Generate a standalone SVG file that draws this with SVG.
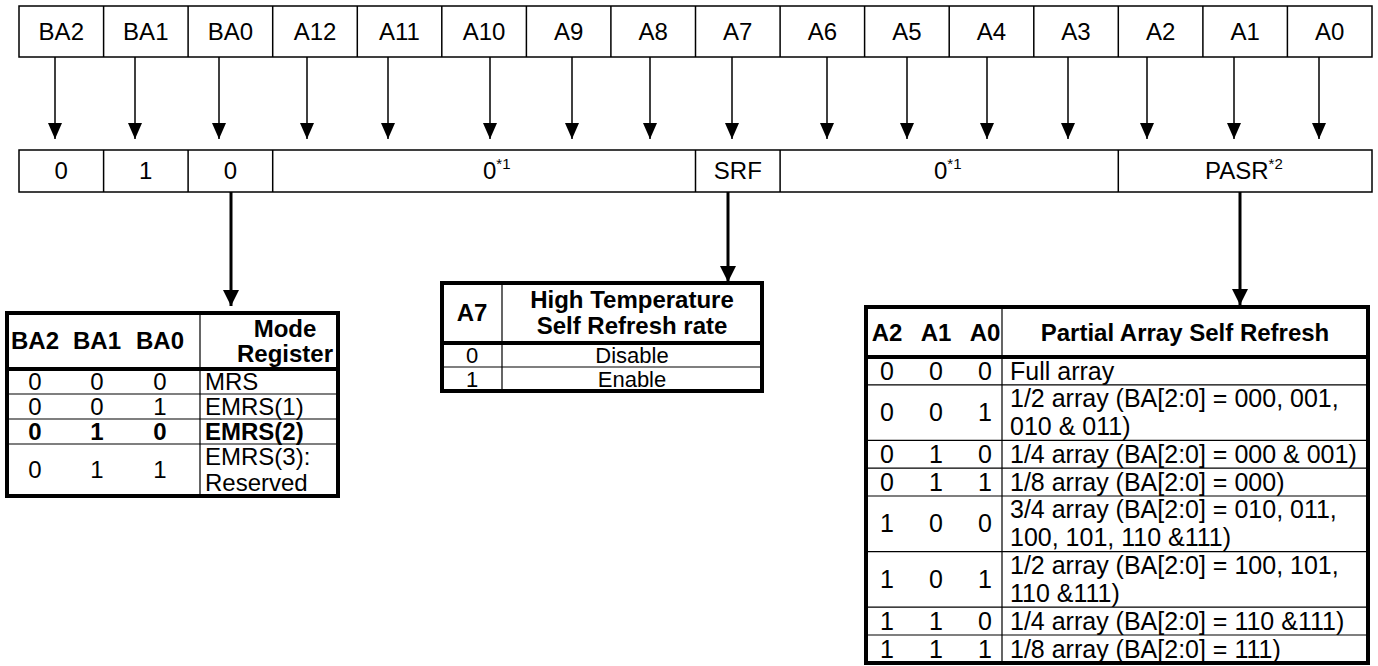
<svg xmlns="http://www.w3.org/2000/svg" width="1378" height="666" viewBox="0 0 1378 666">
<defs>
<style>
text{font-family:"Liberation Sans",Arial,sans-serif;font-size:24px;fill:#000}
.b{font-weight:bold}
.m{text-anchor:middle}
.p{font-size:25px}
.s{font-size:22px}
.cell{fill:#fff;stroke:#000;stroke-width:1.5}
.thin{stroke:#000;stroke-width:1.5;fill:none}
.thick{stroke:#000;stroke-width:4;fill:none}
.grid{stroke:#000;stroke-width:1.2;fill:none}
.sup{font-size:15px}
</style>
<marker id="ah" viewBox="0 0 14 16" refX="7" refY="16" markerWidth="14" markerHeight="16" markerUnits="userSpaceOnUse">
<path d="M0 0 L14 0 L7 16 Z" fill="#000"/>
</marker>
<marker id="ah2" viewBox="0 0 16 16" refX="8" refY="16" markerWidth="16" markerHeight="16" markerUnits="userSpaceOnUse">
<path d="M0 0 L16 0 L8 16 Z" fill="#000"/>
</marker>
</defs>
<rect width="1378" height="666" fill="#fff"/>

<g id="address-row">
<rect class="cell" x="19" y="6" width="1353" height="51"/>
<path class="thin" d="M103.6 6V57M188.1 6V57M272.7 6V57M357.3 6V57M441.8 6V57M526.4 6V57M610.9 6V57M695.5 6V57M780.1 6V57M864.6 6V57M949.2 6V57M1033.8 6V57M1118.3 6V57M1202.9 6V57M1287.4 6V57"/>
<text class="m" x="61.3" y="40">BA2</text>
<text class="m" x="145.8" y="40">BA1</text>
<text class="m" x="230.4" y="40">BA0</text>
<text class="m" x="315" y="40">A12</text>
<text class="m" x="399.5" y="40">A11</text>
<text class="m" x="484.1" y="40">A10</text>
<text class="m" x="568.7" y="40">A9</text>
<text class="m" x="653.2" y="40">A8</text>
<text class="m" x="737.8" y="40">A7</text>
<text class="m" x="822.4" y="40">A6</text>
<text class="m" x="906.9" y="40">A5</text>
<text class="m" x="991.5" y="40">A4</text>
<text class="m" x="1076" y="40">A3</text>
<text class="m" x="1160.6" y="40">A2</text>
<text class="m" x="1245.2" y="40">A1</text>
<text class="m" x="1329.7" y="40">A0</text>
</g>

<g id="value-row">
<rect class="cell" x="19" y="150" width="1353" height="42"/>
<path class="thin" d="M103.6 150V192M188.1 150V192M272.7 150V192M695.5 150V192M780.1 150V192M1118.3 150V192"/>
<text class="m" x="61.3" y="179">0</text>
<text class="m" x="145.8" y="179">1</text>
<text class="m" x="230.4" y="179">0</text>
<text x="483" y="179">0<tspan class="sup" dy="-10">*1</tspan></text>
<text class="m" x="737.8" y="179">SRF</text>
<text x="934" y="179">0<tspan class="sup" dy="-10">*1</tspan></text>
<text x="1205" y="179">PASR<tspan class="sup" dy="-10">*2</tspan></text>
</g>

<g id="connectors">
<g class="thin" marker-end="url(#ah)">
<path d="M55 57V139"/><path d="M135 57V139"/><path d="M219 57V139"/><path d="M307 57V139"/>
<path d="M388 57V139"/><path d="M490 57V139"/><path d="M572 57V139"/><path d="M650 57V139"/>
<path d="M732 57V139"/><path d="M827 57V139"/><path d="M907 57V139"/><path d="M987 57V139"/>
<path d="M1068 57V139"/><path d="M1147 57V139"/><path d="M1234 57V139"/><path d="M1319 57V139"/>
</g>
<g stroke="#000" stroke-width="3" fill="none" marker-end="url(#ah2)">
<path d="M231 192V306"/>
<path d="M728 192V282"/>
<path d="M1240 192V305"/>
</g>
</g>

<g id="mode-register-table">
<rect x="7" y="313" width="331" height="183" fill="#fff" stroke="none"/>
<path class="grid" d="M200 313V496M7 394H338M7 419H338M7 444H338"/>
<path class="thick" d="M7 369H338"/>
<rect class="thick" x="7" y="313" width="331" height="183"/>
<text class="b m" x="35" y="349">BA2</text>
<text class="b m" x="97" y="349">BA1</text>
<text class="b m" x="160" y="349">BA0</text>
<text class="b m" x="285" y="337">Mode</text>
<text class="b m" x="285" y="362">Register</text>
<text class="m" x="35" y="390">0</text><text class="m" x="97" y="390">0</text><text class="m" x="160" y="390">0</text><text x="205" y="390">MRS</text>
<text class="m" x="35" y="415">0</text><text class="m" x="97" y="415">0</text><text class="m" x="160" y="415">1</text><text x="205" y="415">EMRS(1)</text>
<text class="b m" x="35" y="440">0</text><text class="b m" x="97" y="440">1</text><text class="b m" x="160" y="440">0</text><text class="b" x="205" y="440">EMRS(2)</text>
<text class="m" x="35" y="478">0</text><text class="m" x="97" y="478">1</text><text class="m" x="160" y="478">1</text><text x="205" y="465">EMRS(3):</text><text x="205" y="491">Reserved</text>
</g>

<g id="srf-table">
<rect x="442" y="283" width="320" height="108" fill="#fff" stroke="none"/>
<path class="grid" d="M502 283V391M442 367H762"/>
<path class="thick" d="M442 343H762"/>
<rect class="thick" x="442" y="283" width="320" height="108"/>
<text class="b m" x="472" y="321">A7</text>
<text class="b m" x="632" y="308">High Temperature</text>
<text class="b m" x="632" y="334">Self Refresh rate</text>
<text class="s m" x="472" y="363">0</text><text class="s m" x="632" y="363">Disable</text>
<text class="s m" x="472" y="387">1</text><text class="s m" x="632" y="387">Enable</text>
</g>

<g id="pasr-table">
<rect x="866" y="307" width="502" height="356" fill="#fff" stroke="none"/>
<path class="grid" d="M1002 307V663M866 384.8H1368M866 440.4H1368M866 468.2H1368M866 496H1368M866 551.6H1368M866 607.2H1368M866 635H1368"/>
<path class="thick" d="M866 357H1368"/>
<rect class="thick" x="866" y="307" width="502" height="356"/>
<text class="b m" x="887" y="341">A2</text>
<text class="b m" x="936" y="341">A1</text>
<text class="b m" x="985" y="341">A0</text>
<text class="b m" x="1185" y="341">Partial Array Self Refresh</text>
<text class="p m" x="887" y="380">0</text><text class="p m" x="936" y="380">0</text><text class="p m" x="985" y="380">0</text><text class="p" x="1010" y="380">Full array</text>
<text class="p m" x="887" y="421">0</text><text class="p m" x="936" y="421">0</text><text class="p m" x="985" y="421">1</text><text class="p" x="1010" y="407">1/2 array (BA[2:0] = 000, 001,</text><text class="p" x="1010" y="435">010 &amp; 011)</text>
<text class="p m" x="887" y="463">0</text><text class="p m" x="936" y="463">1</text><text class="p m" x="985" y="463">0</text><text class="p" x="1010" y="463">1/4 array (BA[2:0] = 000 &amp; 001)</text>
<text class="p m" x="887" y="491">0</text><text class="p m" x="936" y="491">1</text><text class="p m" x="985" y="491">1</text><text class="p" x="1010" y="491">1/8 array (BA[2:0] = 000)</text>
<text class="p m" x="887" y="532">1</text><text class="p m" x="936" y="532">0</text><text class="p m" x="985" y="532">0</text><text class="p" x="1010" y="518">3/4 array (BA[2:0] = 010, 011,</text><text class="p" x="1010" y="546">100, 101, 110 &amp;111)</text>
<text class="p m" x="887" y="588">1</text><text class="p m" x="936" y="588">0</text><text class="p m" x="985" y="588">1</text><text class="p" x="1010" y="574">1/2 array (BA[2:0] = 100, 101,</text><text class="p" x="1010" y="602">110 &amp;111)</text>
<text class="p m" x="887" y="630">1</text><text class="p m" x="936" y="630">1</text><text class="p m" x="985" y="630">0</text><text class="p" x="1010" y="630">1/4 array (BA[2:0] = 110 &amp;111)</text>
<text class="p m" x="887" y="658">1</text><text class="p m" x="936" y="658">1</text><text class="p m" x="985" y="658">1</text><text class="p" x="1010" y="658">1/8 array (BA[2:0] = 111)</text>
</g>
</svg>
